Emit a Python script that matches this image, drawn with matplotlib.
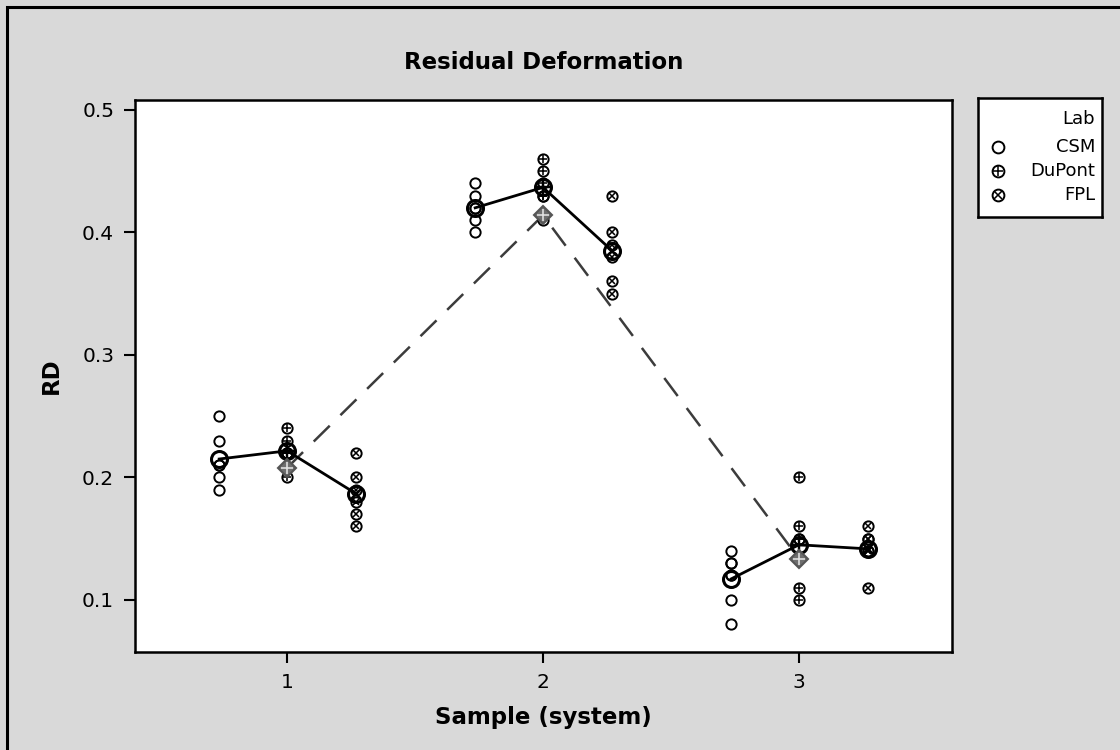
import matplotlib
matplotlib.use("Agg")
import matplotlib.pyplot as plt
import numpy as np
from matplotlib.patches import Rectangle

plt.rcParams['font.family'] = ['DejaVu Sans']

# sample (system) and lab values
samples = [1, 2, 3]
labs = ['CSM', 'DuPont', 'FPL']
rd = {
    (1, 'CSM'):    [0.25, 0.23, 0.21, 0.21, 0.20, 0.19],
    (1, 'DuPont'): [0.24, 0.23, 0.22, 0.22, 0.22, 0.20],
    (1, 'FPL'):    [0.22, 0.20, 0.19, 0.18, 0.17, 0.16],
    (2, 'CSM'):    [0.44, 0.43, 0.42, 0.42, 0.41, 0.40],
    (2, 'DuPont'): [0.46, 0.45, 0.44, 0.43, 0.43, 0.41],
    (2, 'FPL'):    [0.43, 0.40, 0.39, 0.38, 0.36, 0.35],
    (3, 'CSM'):    [0.14, 0.13, 0.13, 0.12, 0.12, 0.10, 0.08],
    (3, 'DuPont'): [0.20, 0.16, 0.15, 0.15, 0.11, 0.10],
    (3, 'FPL'):    [0.16, 0.15, 0.15, 0.14, 0.14, 0.11],
}
lab_offset = {'CSM': -0.265, 'DuPont': 0.0, 'FPL': 0.27}


def draw_marker(ax, x, y, lab, size, lw, z=3):
    # open circle, with a + (DuPont) or x (FPL) inside
    ax.plot(x, y, 'o', ms=size, mfc='none', mec='black', mew=lw, zorder=z)
    if lab == 'DuPont':
        ax.plot(x, y, '+', ms=size * 0.85, mec='black', mew=lw * 0.8, zorder=z)
    elif lab == 'FPL':
        ax.plot(x, y, 'x', ms=size * 0.6, mec='black', mew=lw * 0.8, zorder=z)


fig = plt.figure(figsize=(11.2, 7.5), dpi=100)
fig.patch.set_facecolor('#d9d9d9')
fig.patches.append(Rectangle((7 / 1120, -0.05), 1.1, 1 - 7 / 750 + 0.05,
                             transform=fig.transFigure, fill=False,
                             ec='black', lw=2.2))

ax = fig.add_axes([135 / 1120, 1 - 652 / 750, 817 / 1120, 552 / 750])
ax.set_facecolor('white')

grand = []
for s in samples:
    mx, my = [], []
    for lab in labs:
        vals = rd[(s, lab)]
        x = s + lab_offset[lab]
        for v in vals:
            draw_marker(ax, x, v, lab, 7.4, 1.4)
        mx.append(x)
        my.append(np.mean(vals))
    ax.plot(mx, my, '-', color='black', lw=2.0, zorder=4)
    for x, y, lab in zip(mx, my, labs):
        draw_marker(ax, x, y, lab, 11.5, 2.2, z=5)
    grand.append(np.mean(np.concatenate([rd[(s, lab)] for lab in labs])))

ax.plot(samples, grand, color='#3c3c3c', lw=1.8, dashes=(9, 6), zorder=2)
ax.plot(samples, grand, 'D', ms=9.5, mfc='#6e6e6e', mec='#555555', mew=1.5,
        zorder=6)
ax.plot(samples, grand, '+', ms=8, mec='#e0e0e0', mew=1.2, zorder=7)

ax.set_xlim(0.406, 3.598)
ax.set_ylim(0.0575, 0.508)
ax.set_xticks(samples)
ax.set_yticks([0.1, 0.2, 0.3, 0.4, 0.5])
ax.set_yticklabels(['0.1', '0.2', '0.3', '0.4', '0.5'])
ax.tick_params(labelsize=14.5, length=8, width=1.5, direction='out', pad=7)
for sp in ax.spines.values():
    sp.set_linewidth(1.8)

ax.set_xlabel('Sample (system)', fontsize=16.5, fontweight='bold', labelpad=10)
ax.set_ylabel('RD', fontsize=16.5, fontweight='bold', labelpad=14)
ax.set_title('Residual Deformation', fontsize=16.5, fontweight='bold', pad=22)

# legend box
lg = fig.add_axes([978 / 1120, 1 - 217 / 750, 124 / 1120, 119 / 750])
lg.set_xlim(0, 124)
lg.set_ylim(119, 0)
lg.set_xticks([])
lg.set_yticks([])
for sp in lg.spines.values():
    sp.set_linewidth(1.8)
lg.text(117, 21, 'Lab', ha='right', va='center', fontsize=13)
for i, lab in enumerate(labs):
    yy = 49 + i * 24
    draw_marker(lg, 20, yy, lab, 8.5, 1.4)
    lg.text(117, yy, lab, ha='right', va='center', fontsize=13)

fig.savefig('out.png', dpi=100, facecolor=fig.get_facecolor())
